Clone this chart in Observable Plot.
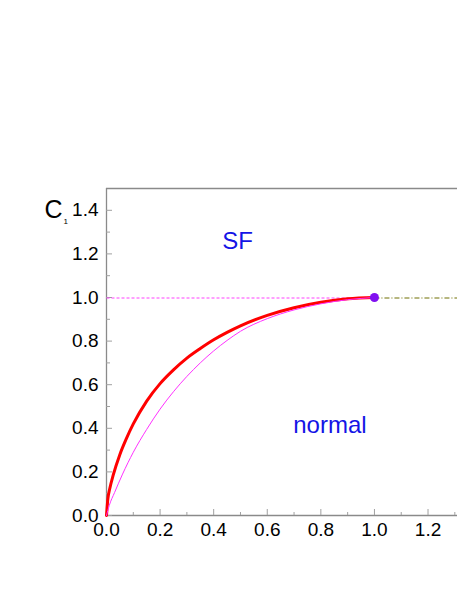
<!DOCTYPE html>
<html>
<head>
<meta charset="utf-8">
<script src="https://cdn.jsdelivr.net/npm/d3@7"></script>
<script src="https://cdn.jsdelivr.net/npm/@observablehq/plot@0.6"></script>
<style>
  html, body { margin: 0; padding: 0; background: #fff; }
  svg { display: block; }
</style>
</head>
<body>
<div id="chart"></div>
<script>
// --- data ---
const redX = [0, 0.005, 0.0125, 0.025, 0.05, 0.075, 0.1, 0.15, 0.2, 0.25, 0.3, 0.35, 0.4, 0.45, 0.5, 0.6, 0.7, 0.8, 0.9, 1];
const redY = [0, 0.075, 0.125, 0.185, 0.28, 0.355, 0.42, 0.525, 0.605, 0.668, 0.722, 0.766, 0.806, 0.84, 0.87, 0.918, 0.953, 0.978, 0.994, 1];
const magX = [0, 0.01, 0.03, 0.06, 0.1, 0.15, 0.2, 0.25, 0.3, 0.35, 0.4, 0.45, 0.5, 0.6, 0.7, 0.8, 0.9, 1];
const magY = [0, 0.045, 0.105, 0.19, 0.29, 0.395, 0.488, 0.568, 0.638, 0.7, 0.755, 0.803, 0.845, 0.903, 0.943, 0.971, 0.99, 1];
const pointX = [1];
const pointY = [1];
const refDashX = [0, 1];
const refDashY = [1, 1];
const refDashDotX = [1, 1.31];
const refDashDotY = [1, 1];
const xTicksMajor = [0, 0.2, 0.4, 0.6, 0.8, 1.0, 1.2];
const xTicksMinor = [0.1, 0.3, 0.5, 0.7, 0.9, 1.1, 1.3];
const yTicksMajor = [0, 0.2, 0.4, 0.6, 0.8, 1.0, 1.2, 1.4];
const yTicksMinor = [0.1, 0.3, 0.5, 0.7, 0.9, 1.1, 1.3];
const regionLabels = ["SF", "normal"];
const regionLabelX = [0.432, 0.697];
const regionLabelY = [1.222, 0.377];
const xDomain = [0, 1.31];
const yDomain = [0, 1.5];

const W = 457, H = 591;
const mT = 188, mB = 76, mL = 106, mR = 0;
const innerH = H - mT - mB;
const innerW = W - mL - mR;
const axisColor = "#8a8a8a";
const tickColor = "#a0a0a0";
const fmt = d3.format(".1f");

const chart = Plot.plot({
  width: W,
  height: H,
  marginTop: mT,
  marginBottom: mB,
  marginLeft: mL,
  marginRight: mR,
  style: { fontFamily: "'Liberation Sans', Arial, sans-serif", background: "#fff", overflow: "visible" },
  x: { domain: xDomain, axis: null },
  y: { domain: yDomain, axis: null },
  marks: [
    // frame lines (left, bottom, top)
    Plot.ruleX([xDomain[0]], { stroke: axisColor, strokeWidth: 1.3 }),
    Plot.ruleY([yDomain[0]], { stroke: axisColor, strokeWidth: 1.3 }),
    Plot.ruleY([yDomain[1]], { stroke: axisColor, strokeWidth: 1.3 }),
    // inward ticks
    Plot.tickX(xTicksMajor, { x: d => d, insetTop: innerH - 6, stroke: tickColor }),
    Plot.tickX(xTicksMinor, { x: d => d, insetTop: innerH - 3, stroke: tickColor }),
    Plot.tickY(yTicksMajor, { y: d => d, insetRight: innerW - 6, stroke: tickColor }),
    Plot.tickY(yTicksMinor, { y: d => d, insetRight: innerW - 4, stroke: tickColor }),
    // tick labels
    Plot.text(xTicksMajor, { x: d => d, frameAnchor: "bottom", dy: 7, lineAnchor: "top", text: d => fmt(d), fontSize: 19, fill: "#000" }),
    Plot.text(yTicksMajor, { y: d => d, frameAnchor: "left", dx: -8, textAnchor: "end", lineAnchor: "middle", text: d => fmt(d), fontSize: 19, fill: "#000" }),
    // reference lines
    Plot.line(refDashX, { x: (d, i) => refDashX[i], y: (d, i) => refDashY[i], dy: 0.5, stroke: "#ff40ff", strokeWidth: 1, strokeLinecap: "butt", strokeDasharray: "3,2" }),
    Plot.line(refDashDotX, { x: (d, i) => refDashDotX[i], y: (d, i) => refDashDotY[i], dy: 0.5, stroke: "#6e6e00", strokeWidth: 1, strokeLinecap: "butt", strokeDasharray: "5,2,1,2" }),
    // curves
    Plot.line(redX, { x: (d, i) => redX[i], y: (d, i) => redY[i], stroke: "#ff0000", strokeWidth: 3, curve: "monotone-x" }),
    Plot.line(magX, { x: (d, i) => magX[i], y: (d, i) => magY[i], stroke: "#ff30ff", strokeWidth: 1, curve: "monotone-x" }),
    // point
    Plot.dot(pointX, { x: (d, i) => pointX[i], y: (d, i) => pointY[i], r: 4.5, fill: "#8010f0", stroke: "none" }),
    // region labels
    Plot.text(regionLabels, { x: (d, i) => regionLabelX[i], y: (d, i) => regionLabelY[i], text: d => d, textAnchor: "start", lineAnchor: "bottom", fontSize: 24, fill: "#1414e6" }),
    // y axis title C1
    Plot.text(["C"], { frameAnchor: "top-left", text: d => d, dx: -62, dy: 29, textAnchor: "start", lineAnchor: "bottom", fontSize: 25, fill: "#000" }),
    Plot.text(["1"], { frameAnchor: "top-left", text: d => d, dx: -43, dy: 35, textAnchor: "start", lineAnchor: "bottom", fontSize: 8, fill: "#000" })
  ]
});
document.getElementById("chart").appendChild(chart);
</script>
</body>
</html>
